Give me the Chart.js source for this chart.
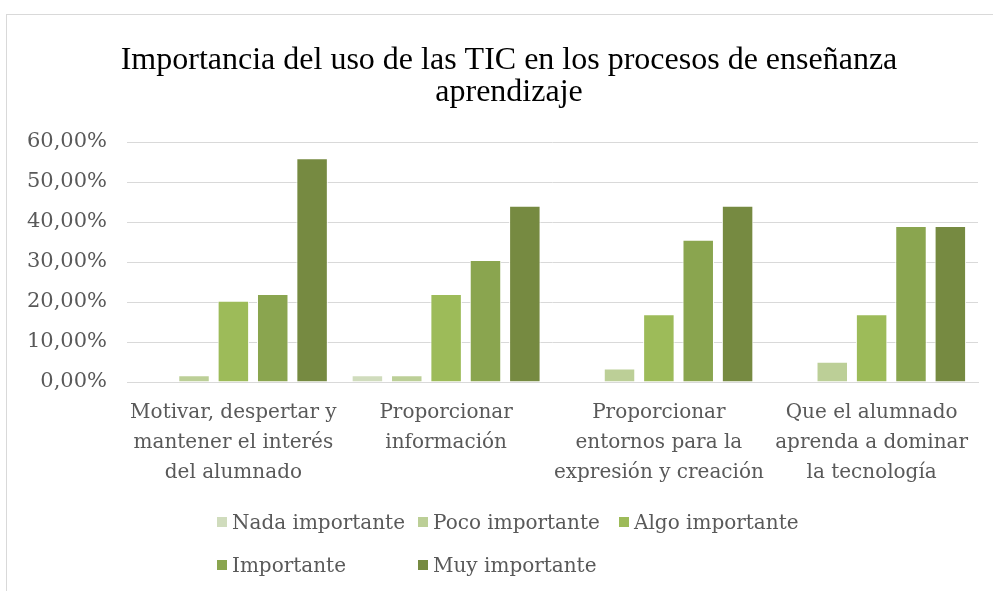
<!DOCTYPE html>
<html>
<head>
<meta charset="utf-8">
<script src="https://cdn.jsdelivr.net/npm/chart.js@4"></script>
<style>
  html, body { margin: 0; padding: 0; background: #fff; overflow: hidden; }
  #frame {
    position: absolute; left: 6px; top: 14px;
    width: 1010px; height: 600px;
    border: 1px solid #d9d9d9; box-sizing: border-box;
  }
  #wrap { position: absolute; left: 0; top: 0; width: 1004px; height: 598px; }
  #legend {
    position: absolute; left: 210px; top: 493px;
    display: grid; grid-template-columns: 201px 201px 201px;
    row-gap: 16px;
    font-family: "DejaVu Serif", serif; font-size: 20px; color: #595959;
  }
  .item { display: flex; align-items: center; height: 27px; white-space: nowrap; }
  .box { width: 10px; height: 10px; margin-right: 5px; }
</style>
</head>
<body>
<div id="frame">
  <div id="wrap"><canvas id="barChart"></canvas></div>
  <div id="legend"></div>
</div>
<script>
// Categories (multi-line labels)
const categories = [
    ['Motivar, despertar y', 'mantener el interés', 'del alumnado'],
    ['Proporcionar', 'información'],
    ['Proporcionar', 'entornos para la', 'expresión y creación'],
    ['Que el alumnado', 'aprenda a dominar', 'la tecnología'],
];

const seriesNames = ['Nada importante', 'Poco importante', 'Algo importante', 'Importante', 'Muy importante'];

// values in percent, one array per series
const nadaImportante  = [0, 1.69, 0, 0];
const pocoImportante  = [1.69, 1.69, 3.39, 5.08];
const algoImportante  = [20.34, 22.03, 16.95, 16.95];
const importante      = [22.03, 30.51, 35.59, 38.98];
const muyImportante   = [55.93, 44.07, 44.07, 38.98];

const yTicks = [0, 10, 20, 30, 40, 50, 60];

const seriesValues = [nadaImportante, pocoImportante, algoImportante, importante, muyImportante];
const seriesColors = ['#d0dcbd', '#bccf97', '#9dbb59', '#8aa54f', '#768a41'];

function createBarChart() {
    const ctx = document.getElementById('barChart').getContext('2d');

    new Chart(ctx, {
        type: 'bar',
        data: {
            labels: categories,
            datasets: seriesNames.map((name, i) => ({
                label: name,
                data: seriesValues[i],
                backgroundColor: seriesColors[i],
                borderColor: '#ffffff',
                borderWidth: 1,
                categoryPercentage: 0.925,
                barPercentage: 0.8
            }))
        },
        options: {
            responsive: true,
            maintainAspectRatio: false,
            animation: false,
            layout: { padding: { left: 0, right: 0, top: 0, bottom: 95 } },
            scales: {
                x: {
                    grid: { display: false, drawTicks: false },
                    border: { display: true, color: '#d9d9d9' },
                    ticks: {
                        color: '#595959',
                        font: { family: 'DejaVu Serif', size: 20, lineHeight: 1.5 },
                        maxRotation: 0,
                        autoSkip: false,
                        padding: 16
                    },
                    afterFit: scale => { scale.height = 136; }
                },
                y: {
                    min: 0,
                    max: 60,
                    afterBuildTicks: scale => { scale.ticks = yTicks.map(v => ({ value: v })); },
                    grid: { color: '#d9d9d9', drawTicks: false },
                    border: { display: false },
                    ticks: {
                        color: '#595959',
                        font: { family: 'DejaVu Serif', size: 21 },
                        padding: 20,
                        callback: v => v.toFixed(2).replace('.', ',') + '%'
                    },
                    afterFit: scale => { scale.width = 120; }
                },
                // empty spacer on the right so the title stays centred on the whole frame
                spacer: {
                    position: 'right',
                    grid: { display: false, drawTicks: false },
                    border: { display: false },
                    ticks: { display: false },
                    afterFit: scale => { scale.width = 33; }
                }
            },
            plugins: {
                legend: { display: false },
                tooltip: { enabled: false },
                title: {
                    display: true,
                    text: ['Importancia del uso de las TIC en los procesos de enseñanza', 'aprendizaje'],
                    color: '#000000',
                    font: { family: 'Liberation Serif', size: 32, weight: 'normal', lineHeight: 1.0 },
                    padding: { top: 30, bottom: 33 }
                }
            }
        }
    });

    // html legend laid out in the same grid as the original
    const legend = document.getElementById('legend');
    seriesNames.forEach((name, i) => {
        const item = document.createElement('div');
        item.className = 'item';
        item.innerHTML = '<span class="box" style="background:' + seriesColors[i] + '"></span>' + name;
        legend.appendChild(item);
    });
}

createBarChart();
</script>
</body>
</html>
